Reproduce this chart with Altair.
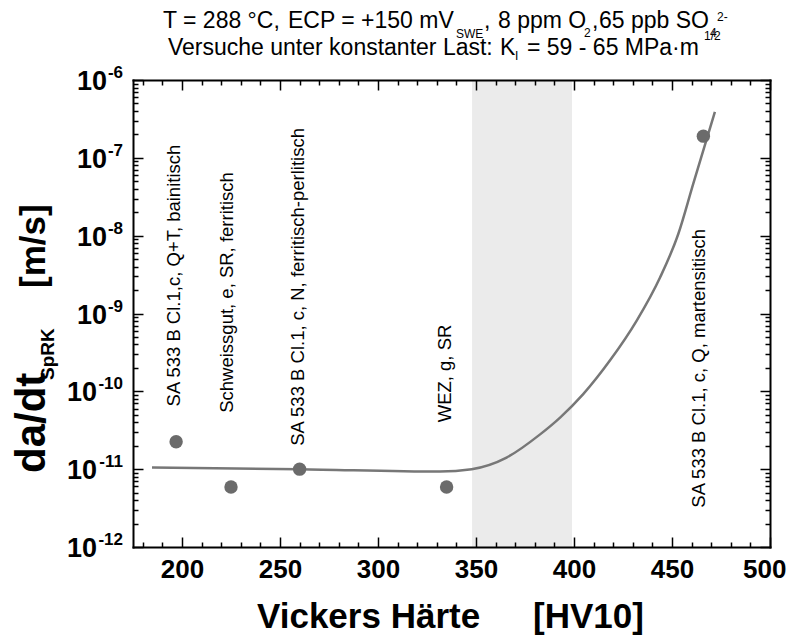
import altair as alt
import pandas as pd

# ---------------- data ----------------
hardness = [197, 225, 260, 335, 466]
rate = [2.25e-11, 5.9e-12, 1.0e-11, 5.9e-12, 1.9e-7]

fit_hardness = [184.7, 260, 331.6, 347.8, 365.6, 382.7, 392.9, 404.7, 418.4,
                432.0, 443.9, 453.2, 460.9, 471.9]
fit_rate = [1.05e-11, 1.0e-11, 9.3e-12, 1.0e-11, 1.41e-11, 2.8e-11, 4.6e-11,
            9.2e-11, 2.5e-10, 8.1e-10, 2.9e-9, 1.05e-8, 4.7e-8, 3.9e-7]

band_start = [348]
band_end = [399]

labels = ["SA 533 B Cl.1,c, Q+T, bainitisch",
          "Schweissgut, e, SR, ferritisch",
          "SA 533 B Cl.1, c, N, ferritisch-perlitisch",
          "WEZ, g, SR",
          "SA 533 B Cl.1, c, Q, martensitisch"]
label_hardness = [196, 223, 259, 334, 464]
label_rate = [6.4e-11, 5.3e-11, 2.0e-11, 4.0e-11, 3.2e-12]

x_major = [200, 250, 300, 350, 400, 450, 500]
x_minor = [v for v in range(180, 500, 10) if v % 50 != 0]
y_exponents = [-12, -11, -10, -9, -8, -7, -6]
y_major = [10.0 ** e for e in y_exponents]
y_minor = [k * 10.0 ** e for e in range(-12, -6) for k in range(2, 10)]

# title pieces: text, x, y (pixels relative to plot), font size
title_text = ["T = 288 °C,", "ECP = +150 mV", "SWE", ",", "8 ppm O", "2", ",", "65 ppb SO", "4", "2-",
              "Versuche unter konstanter Last:", "K", "I", "= 59 - 65 MPa", "·m", "1/2"]
title_px = [30, 155, 323, 351, 365, 451, 459, 466, 577, 584,
            35, 367, 382, 394, 539, 571]
title_py = [-52, -52, -42, -52, -52, -43, -52, -52, -43, -59,
            -25, -25, -20, -25, -25, -40]
title_fs = [23, 23, 12, 23, 23, 12, 23, 23, 12, 12,
            23, 23, 12, 23, 23, 12]

ytitle_text = ["da/dt", "SpRK", "[m/s]"]
ytitle_px = [-88, -79, -88]
ytitle_py = [393, 300, 208]
ytitle_fs = [42, 19, 35]

xtitle_text = ["Vickers Härte", "[HV10]"]
xtitle_px = [124, 400]
xtitle_py = [548, 548]
xtitle_fs = [35, 35]

# ---------------- styling ----------------
FONT = "Liberation Sans, Arial, sans-serif"
W, H = 637, 467

xscale = alt.Scale(domain=[175, 500], nice=False, zero=False)
yscale = alt.Scale(type="log", domain=[1e-12, 1e-6], nice=False)


def tick_axis(orient, values, size):
    return alt.Axis(orient=orient, values=values, ticks=True, tickSize=size,
                    tickWidth=1.5, tickColor="black", offset=-size, domain=False,
                    grid=False, labels=False, title=None, zindex=1)


def dom_axis(orient):
    return alt.Axis(orient=orient, domain=True, domainColor="black", domainWidth=2,
                    domainCap="square", ticks=False, labels=False, grid=False,
                    title=None, zindex=1)


x_lab = alt.Axis(orient="bottom", values=x_major, ticks=False, tickSize=0, domain=True,
                 domainColor="black", domainWidth=2, domainCap="square", labels=True,
                 labelFont=FONT, labelFontSize=26, labelFontWeight="bold",
                 labelColor="black", labelPadding=9, labelFlush=True, labelFlushOffset=16,
                 labelOverlap=False, grid=False, title=None, zindex=1)

pts_df = pd.DataFrame({"hv": hardness, "rate": rate})
fit_df = pd.DataFrame({"hv": fit_hardness, "rate": fit_rate})
band_df = pd.DataFrame({"lo": band_start, "hi": band_end, "ylo": [1e-12], "yhi": [1e-6]})
ann_df = pd.DataFrame({"hv": label_hardness, "rate": label_rate, "t": labels})

band = alt.Chart(band_df).mark_rect(color="#ebebeb").encode(
    x=alt.X("lo:Q", scale=xscale, axis=x_lab), x2="hi:Q",
    y=alt.Y("ylo:Q", scale=yscale, axis=dom_axis("left")), y2="yhi:Q")

line = alt.Chart(fit_df).mark_line(color="#777777", strokeWidth=2.5, interpolate="monotone").encode(
    x=alt.X("hv:Q", scale=xscale, axis=tick_axis("bottom", x_major, 10)),
    y=alt.Y("rate:Q", scale=yscale, axis=tick_axis("left", y_major, 10)))

pts = alt.Chart(pts_df).mark_circle(color="#6b6b6b", opacity=1, size=180).encode(
    x=alt.X("hv:Q", scale=xscale, axis=tick_axis("bottom", x_minor, 5)),
    y=alt.Y("rate:Q", scale=yscale, axis=tick_axis("left", y_minor, 5)))

ann = alt.Chart(ann_df).mark_text(angle=270, align="left", baseline="middle", font=FONT,
                                  fontSize=18.5, color="black").encode(
    x=alt.X("hv:Q", scale=xscale, axis=dom_axis("top")),
    y=alt.Y("rate:Q", scale=yscale, axis=dom_axis("right")),
    text="t:N")

ghost1 = alt.Chart(pts_df).mark_circle(opacity=0).encode(
    x=alt.X("hv:Q", scale=xscale, axis=tick_axis("top", x_major, 10)),
    y=alt.Y("rate:Q", scale=yscale, axis=tick_axis("right", y_major, 10)))

ghost2 = alt.Chart(pts_df).mark_circle(opacity=0).encode(
    x=alt.X("hv:Q", scale=xscale, axis=tick_axis("top", x_minor, 5)),
    y=alt.Y("rate:Q", scale=yscale, axis=tick_axis("right", y_minor, 5)))

# y tick labels: "10" with a raised exponent
exp_df = pd.DataFrame({"val": y_major, "e": [str(e) for e in y_exponents]})
exp_df["xoff"] = [-11 - (25 if abs(e) >= 10 else 15) for e in y_exponents]

tens = alt.Chart(exp_df).mark_text(align="right", baseline="alphabetic", dy=10, font=FONT,
                                   fontSize=27, fontWeight="bold", color="black").encode(
    x=alt.X("xoff:Q", scale=None, axis=None),
    y=alt.Y("val:Q", scale=yscale, axis=None),
    text=alt.value("10"))

exps = alt.Chart(exp_df).mark_text(align="right", baseline="alphabetic", dy=-2, font=FONT,
                                   fontSize=17, fontWeight="bold", color="black").encode(
    x=alt.value(-10),
    y=alt.Y("val:Q", scale=yscale, axis=None),
    text="e:N")

title_df = pd.DataFrame({"t": title_text, "px": title_px, "py": title_py, "fs": title_fs})
title = alt.Chart(title_df).mark_text(align="left", baseline="alphabetic", font=FONT,
                                      color="black").encode(
    x=alt.X("px:Q", scale=None, axis=None),
    y=alt.Y("py:Q", scale=None, axis=None),
    size=alt.Size("fs:Q", scale=None, legend=None),
    text="t:N")

yt_df = pd.DataFrame({"t": ytitle_text, "px": ytitle_px, "py": ytitle_py, "fs": ytitle_fs})
ytitle = alt.Chart(yt_df).mark_text(align="left", baseline="alphabetic", angle=270, font=FONT,
                                    fontWeight="bold", color="black").encode(
    x=alt.X("px:Q", scale=None, axis=None),
    y=alt.Y("py:Q", scale=None, axis=None),
    size=alt.Size("fs:Q", scale=None, legend=None),
    text="t:N")

xt_df = pd.DataFrame({"t": xtitle_text, "px": xtitle_px, "py": xtitle_py, "fs": xtitle_fs})
xtitle = alt.Chart(xt_df).mark_text(align="left", baseline="alphabetic", font=FONT,
                                    fontWeight="bold", color="black").encode(
    x=alt.X("px:Q", scale=None, axis=None),
    y=alt.Y("py:Q", scale=None, axis=None),
    size=alt.Size("fs:Q", scale=None, legend=None),
    text="t:N")

chart = alt.layer(band, line, pts, ann, ghost1, ghost2, tens, exps, title, ytitle, xtitle).resolve_axis(
    x="independent", y="independent"
).properties(
    width=W, height=H,
    autosize=alt.AutoSizeParams(type="none"),
    padding={"left": 125, "top": 72, "right": 17, "bottom": 89},
    background="white",
).configure_view(stroke="transparent")

chart.save("out.html", embed_options={"renderer": "svg", "actions": False})
